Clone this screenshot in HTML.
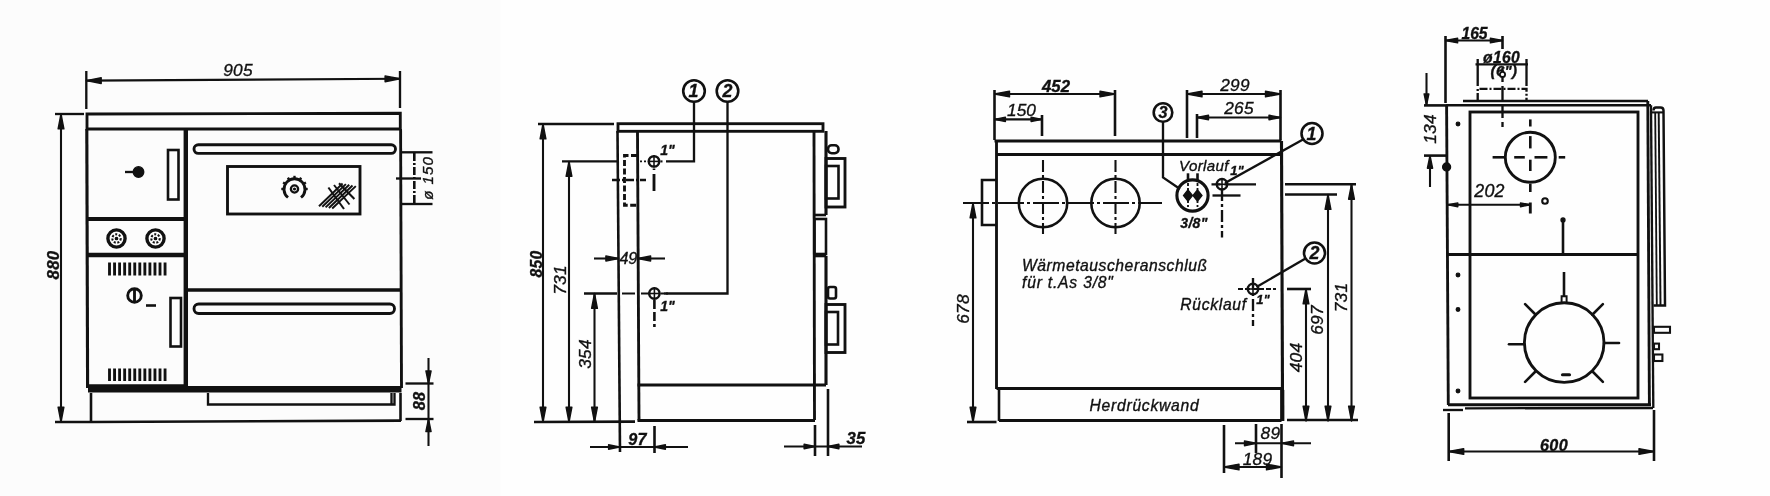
<!DOCTYPE html>
<html><head><meta charset="utf-8"><title>Herd Maßzeichnung</title>
<style>
html,body{margin:0;padding:0;background:#fefefe;}
body{width:1770px;height:496px;overflow:hidden;font-family:"Liberation Sans",sans-serif;}
svg{display:block;opacity:0.999;will-change:transform;}
svg text{font-family:"Liberation Sans",sans-serif;font-style:italic;}
</style></head><body>
<svg width="1770" height="496" viewBox="0 0 1770 496" stroke="#111" fill="none">
<rect x="0" y="0" width="1770" height="496" fill="#fefefe" stroke="none"/>
<rect x="0" y="0" width="500.5" height="496" fill="#fcfcfc" stroke="none"/>
<line x1="86.3" y1="71" x2="86.3" y2="109" stroke-width="2.34" stroke-linecap="butt"/>
<line x1="400" y1="71" x2="400" y2="108" stroke-width="2.34" stroke-linecap="butt"/>
<line x1="86.3" y1="80.6" x2="400" y2="78.8" stroke-width="2.08" stroke-linecap="butt"/>
<polygon points="86.3,80.6 101.2,77.7 101.2,83.5" fill="#111" stroke="#111" stroke-width="1.4" stroke-linejoin="round"/>
<polygon points="400.0,78.8 385.1,75.9 385.1,81.7" fill="#111" stroke="#111" stroke-width="1.4" stroke-linejoin="round"/>
<text x="238" y="76" font-size="17.28" letter-spacing="0.3" text-anchor="middle" stroke="#111" stroke-width="0.35" fill="#111">905</text>
<line x1="55" y1="114" x2="84" y2="114" stroke-width="2.34" stroke-linecap="butt"/>
<line x1="55" y1="422" x2="91" y2="422" stroke-width="2.34" stroke-linecap="butt"/>
<line x1="61" y1="114" x2="61" y2="422" stroke-width="2.08" stroke-linecap="butt"/>
<polygon points="61.0,114.0 58.1,128.9 63.9,128.9" fill="#111" stroke="#111" stroke-width="1.4" stroke-linejoin="round"/>
<polygon points="61.0,422.0 58.1,407.1 63.9,407.1" fill="#111" stroke="#111" stroke-width="1.4" stroke-linejoin="round"/>
<text x="58.5" y="265" font-size="16.74" font-weight="bold" transform="rotate(-90 58.5 265)" letter-spacing="0.3" text-anchor="middle" stroke="#111" stroke-width="0.35" fill="#111">880</text>
<path d="M87,114 L400.3,113.2 V129 H87 Z" stroke-width="2.86" fill="none"/>
<line x1="86.8" y1="129" x2="87.6" y2="388" stroke-width="3.12" stroke-linecap="butt"/>
<line x1="400.6" y1="129" x2="401.5" y2="388" stroke-width="2.86" stroke-linecap="butt"/>
<line x1="185.8" y1="129" x2="185.8" y2="388" stroke-width="4.42" stroke-linecap="butt"/>
<line x1="87" y1="219" x2="185" y2="219" stroke-width="3.9" stroke-linecap="butt"/>
<line x1="87" y1="255" x2="185" y2="255" stroke-width="4.42" stroke-linecap="butt"/>
<line x1="87" y1="385.5" x2="185" y2="385.5" stroke-width="2.6" stroke-linecap="butt"/>
<circle cx="138.5" cy="172" r="5.3" stroke-width="1.3" fill="#111"/>
<line x1="125" y1="172" x2="134" y2="172" stroke-width="2.34" stroke-linecap="butt"/>
<rect x="168" y="150" width="10.5" height="49.5" rx="0" stroke-width="2.6" fill="none"/>
<circle cx="116.5" cy="238.5" r="8.6" stroke-width="3.38" fill="none"/>
<circle cx="116.5" cy="238.5" r="4.2" stroke-width="2.08" fill="none" stroke-dasharray="2 1.6"/>
<circle cx="116.5" cy="238.5" r="1.2" stroke-width="1.3" fill="#111"/>
<circle cx="155.5" cy="238.5" r="8.6" stroke-width="3.38" fill="none"/>
<circle cx="155.5" cy="238.5" r="4.2" stroke-width="2.08" fill="none" stroke-dasharray="2 1.6"/>
<circle cx="155.5" cy="238.5" r="1.2" stroke-width="1.3" fill="#111"/>
<line x1="109.5" y1="262.5" x2="109.5" y2="275.5" stroke-width="2.86" stroke-linecap="butt"/>
<line x1="109.5" y1="368.5" x2="109.5" y2="381" stroke-width="2.86" stroke-linecap="butt"/>
<line x1="114.55" y1="262.5" x2="114.55" y2="275.5" stroke-width="2.86" stroke-linecap="butt"/>
<line x1="114.55" y1="368.5" x2="114.55" y2="381" stroke-width="2.86" stroke-linecap="butt"/>
<line x1="119.6" y1="262.5" x2="119.6" y2="275.5" stroke-width="2.86" stroke-linecap="butt"/>
<line x1="119.6" y1="368.5" x2="119.6" y2="381" stroke-width="2.86" stroke-linecap="butt"/>
<line x1="124.65" y1="262.5" x2="124.65" y2="275.5" stroke-width="2.86" stroke-linecap="butt"/>
<line x1="124.65" y1="368.5" x2="124.65" y2="381" stroke-width="2.86" stroke-linecap="butt"/>
<line x1="129.7" y1="262.5" x2="129.7" y2="275.5" stroke-width="2.86" stroke-linecap="butt"/>
<line x1="129.7" y1="368.5" x2="129.7" y2="381" stroke-width="2.86" stroke-linecap="butt"/>
<line x1="134.75" y1="262.5" x2="134.75" y2="275.5" stroke-width="2.86" stroke-linecap="butt"/>
<line x1="134.75" y1="368.5" x2="134.75" y2="381" stroke-width="2.86" stroke-linecap="butt"/>
<line x1="139.8" y1="262.5" x2="139.8" y2="275.5" stroke-width="2.86" stroke-linecap="butt"/>
<line x1="139.8" y1="368.5" x2="139.8" y2="381" stroke-width="2.86" stroke-linecap="butt"/>
<line x1="144.85" y1="262.5" x2="144.85" y2="275.5" stroke-width="2.86" stroke-linecap="butt"/>
<line x1="144.85" y1="368.5" x2="144.85" y2="381" stroke-width="2.86" stroke-linecap="butt"/>
<line x1="149.9" y1="262.5" x2="149.9" y2="275.5" stroke-width="2.86" stroke-linecap="butt"/>
<line x1="149.9" y1="368.5" x2="149.9" y2="381" stroke-width="2.86" stroke-linecap="butt"/>
<line x1="154.95" y1="262.5" x2="154.95" y2="275.5" stroke-width="2.86" stroke-linecap="butt"/>
<line x1="154.95" y1="368.5" x2="154.95" y2="381" stroke-width="2.86" stroke-linecap="butt"/>
<line x1="160.0" y1="262.5" x2="160.0" y2="275.5" stroke-width="2.86" stroke-linecap="butt"/>
<line x1="160.0" y1="368.5" x2="160.0" y2="381" stroke-width="2.86" stroke-linecap="butt"/>
<line x1="165.05" y1="262.5" x2="165.05" y2="275.5" stroke-width="2.86" stroke-linecap="butt"/>
<line x1="165.05" y1="368.5" x2="165.05" y2="381" stroke-width="2.86" stroke-linecap="butt"/>
<circle cx="134.5" cy="295.5" r="6.8" stroke-width="2.86" fill="none"/>
<line x1="134.5" y1="290" x2="134.5" y2="301" stroke-width="2.86" stroke-linecap="butt"/>
<line x1="146" y1="305.5" x2="156" y2="305.5" stroke-width="2.6" stroke-linecap="butt"/>
<rect x="170.5" y="298" width="10.5" height="48.5" rx="0" stroke-width="2.6" fill="none"/>
<line x1="185" y1="290" x2="401" y2="290" stroke-width="3.38" stroke-linecap="butt"/>
<rect x="194" y="144.8" width="201.5" height="8.599999999999994" rx="4.3" stroke-width="2.86" fill="none"/>
<rect x="194" y="304" width="200.5" height="9.5" rx="4.7" stroke-width="2.86" fill="none"/>
<rect x="227.5" y="166.5" width="132.5" height="47.5" rx="0" stroke-width="2.86" fill="none"/>
<circle cx="294.5" cy="189" r="3.6" stroke-width="2.34" fill="none"/>
<circle cx="294.5" cy="189" r="0.9" stroke-width="1.3" fill="#111"/>
<path d="M288,197.5 A10.5,10.5 0 1 1 301,197.5" stroke-width="2.86" fill="none"/>
<line x1="285.83974596215563" y1="184.0" x2="283.0684646700454" y2="182.4" stroke-width="2.34" stroke-linecap="butt"/>
<line x1="289.5" y1="180.3397459621556" x2="287.9" y2="177.56846467004542" stroke-width="2.34" stroke-linecap="butt"/>
<line x1="294.5" y1="179.0" x2="294.5" y2="175.8" stroke-width="2.34" stroke-linecap="butt"/>
<line x1="299.5" y1="180.3397459621556" x2="301.1" y2="177.56846467004542" stroke-width="2.34" stroke-linecap="butt"/>
<line x1="303.16025403784437" y1="184.0" x2="305.9315353299546" y2="182.4" stroke-width="2.34" stroke-linecap="butt"/>
<line x1="304.5" y1="189.0" x2="307.7" y2="189.0" stroke-width="2.34" stroke-linecap="butt"/>
<line x1="284.5" y1="189.0" x2="281.3" y2="189.0" stroke-width="2.34" stroke-linecap="butt"/>
<line x1="319.0" y1="206.2" x2="342.6" y2="183.5" stroke-width="1.95" stroke-linecap="butt"/>
<line x1="322.3" y1="206.79399999999998" x2="345.90000000000003" y2="184.16" stroke-width="1.95" stroke-linecap="butt"/>
<line x1="325.6" y1="207.38799999999998" x2="349.20000000000005" y2="184.82" stroke-width="1.95" stroke-linecap="butt"/>
<line x1="328.9" y1="207.982" x2="352.5" y2="185.48" stroke-width="1.95" stroke-linecap="butt"/>
<line x1="332.2" y1="208.576" x2="355.8" y2="186.14" stroke-width="1.95" stroke-linecap="butt"/>
<line x1="328.4" y1="187.5" x2="344" y2="209" stroke-width="2.08" stroke-linecap="butt"/>
<line x1="334" y1="185" x2="349.5" y2="204.5" stroke-width="1.95" stroke-linecap="butt"/>
<line x1="339" y1="183.2" x2="354.4" y2="199" stroke-width="2.08" stroke-linecap="butt"/>
<rect x="88" y="386" width="313.5" height="6.5" fill="#111" stroke="none"/>
<line x1="91" y1="393" x2="91" y2="422" stroke-width="2.6" stroke-linecap="butt"/>
<line x1="400.5" y1="393" x2="400.5" y2="421" stroke-width="2.6" stroke-linecap="butt"/>
<line x1="91" y1="422" x2="401" y2="420.6" stroke-width="2.6" stroke-linecap="butt"/>
<path d="M208,393 V404.5 H394.5 V393 M391.5,393 V404.5" stroke-width="2.34" fill="none"/>
<line x1="401" y1="152.3" x2="432.5" y2="152.3" stroke-width="2.34" stroke-linecap="butt"/>
<line x1="401" y1="204" x2="432.5" y2="204" stroke-width="2.34" stroke-linecap="butt"/>
<line x1="414.3" y1="153" x2="414.3" y2="204" stroke-width="2.6" stroke-dasharray="8 2 2 2" stroke-linecap="butt"/>
<line x1="396" y1="178.5" x2="421" y2="178.5" stroke-width="2.34" stroke-linecap="butt"/>
<text x="432.5" y="178" font-size="15.12" transform="rotate(-90 432.5 178)" letter-spacing="1.0" text-anchor="middle" stroke="#111" stroke-width="0.35" fill="#111">ø 150</text>
<line x1="405.5" y1="383.5" x2="433.5" y2="383.5" stroke-width="2.34" stroke-linecap="butt"/>
<line x1="405.5" y1="419" x2="433.5" y2="419" stroke-width="2.34" stroke-linecap="butt"/>
<line x1="428.5" y1="358" x2="428.5" y2="446" stroke-width="2.08" stroke-linecap="butt"/>
<polygon points="428.5,383.5 425.9,370.9 431.1,370.9" fill="#111" stroke="#111" stroke-width="1.4" stroke-linejoin="round"/>
<polygon points="428.5,419.0 425.9,431.6 431.1,431.6" fill="#111" stroke="#111" stroke-width="1.4" stroke-linejoin="round"/>
<text x="424.5" y="401" font-size="16.2" font-weight="bold" transform="rotate(-90 424.5 401)" letter-spacing="0.3" text-anchor="middle" stroke="#111" stroke-width="0.35" fill="#111">88</text>
<rect x="618" y="123.7" width="205" height="7.6000000000000085" rx="0" stroke-width="2.86" fill="none"/>
<line x1="617.5" y1="131" x2="620" y2="452" stroke-width="2.6" stroke-linecap="butt"/>
<line x1="637.5" y1="131" x2="639" y2="420.5" stroke-width="2.86" stroke-linecap="butt"/>
<line x1="814" y1="131" x2="814.5" y2="420" stroke-width="2.86" stroke-linecap="butt"/>
<line x1="637.5" y1="385" x2="826" y2="385" stroke-width="2.86" stroke-linecap="butt"/>
<line x1="637.5" y1="420.5" x2="815" y2="420.5" stroke-width="3.12" stroke-linecap="butt"/>
<line x1="826" y1="131" x2="826" y2="215" stroke-width="3.12" stroke-linecap="butt"/>
<line x1="814.5" y1="215" x2="826" y2="215" stroke-width="2.6" stroke-linecap="butt"/>
<rect x="814.5" y="219" width="11.5" height="35" rx="0" stroke-width="2.6" fill="none"/>
<line x1="826" y1="256" x2="826" y2="385" stroke-width="3.12" stroke-linecap="butt"/>
<line x1="814.5" y1="256" x2="826" y2="256" stroke-width="2.6" stroke-linecap="butt"/>
<rect x="828" y="145.3" width="10.5" height="7.899999999999977" rx="3.7" stroke-width="2.6" fill="none"/>
<rect x="826" y="158.5" width="19" height="48.5" rx="0" stroke-width="2.86" fill="none"/>
<rect x="826" y="166" width="12.5" height="32.5" rx="0" stroke-width="2.6" fill="none"/>
<rect x="828" y="287" width="8" height="11.5" rx="2" stroke-width="2.6" fill="none"/>
<rect x="826" y="304.5" width="19" height="48.0" rx="0" stroke-width="2.86" fill="none"/>
<rect x="826" y="312" width="12" height="32.5" rx="0" stroke-width="2.6" fill="none"/>
<circle cx="694" cy="91" r="10.8" stroke-width="2.6" fill="none"/>
<text x="693.5" y="97" font-size="17.82" font-weight="bold" text-anchor="middle" stroke="#111" stroke-width="0.35" fill="#111">1</text>
<circle cx="727.5" cy="91" r="10.8" stroke-width="2.6" fill="none"/>
<text x="727.5" y="97" font-size="17.82" font-weight="bold" text-anchor="middle" stroke="#111" stroke-width="0.35" fill="#111">2</text>
<path d="M694,102 V161.4 H666" stroke-width="2.34" fill="none"/>
<path d="M727.5,102 V293.5 H664" stroke-width="2.34" fill="none"/>
<circle cx="654" cy="161.4" r="5.2" stroke-width="2.47" fill="none"/>
<line x1="647.8" y1="161.4" x2="660.2" y2="161.4" stroke-width="1.56" stroke-linecap="butt"/>
<line x1="654" y1="155.20000000000002" x2="654" y2="167.6" stroke-width="1.56" stroke-linecap="butt"/>
<line x1="654" y1="168.5" x2="654" y2="170" stroke-width="2.6" stroke-linecap="butt"/>
<line x1="654" y1="174" x2="654" y2="191" stroke-width="2.86" stroke-linecap="butt"/>
<circle cx="654.4" cy="293.5" r="5.2" stroke-width="2.47" fill="none"/>
<line x1="648.1999999999999" y1="293.5" x2="660.6" y2="293.5" stroke-width="1.56" stroke-linecap="butt"/>
<line x1="654.4" y1="287.3" x2="654.4" y2="299.7" stroke-width="1.56" stroke-linecap="butt"/>
<line x1="654.4" y1="300" x2="654.4" y2="327" stroke-width="2.6" stroke-dasharray="9 3" stroke-linecap="butt"/>
<line x1="660.5" y1="161.4" x2="664" y2="161.4" stroke-width="2.08" stroke-dasharray="2 1.5" stroke-linecap="butt"/>
<line x1="661" y1="293.5" x2="668" y2="293.5" stroke-width="2.08" stroke-dasharray="3 2" stroke-linecap="butt"/>
<text x="667.5" y="155" font-size="14.04" font-weight="bold" text-anchor="middle" stroke="#111" stroke-width="0.35" fill="#111">1"</text>
<text x="667.5" y="310.5" font-size="14.04" font-weight="bold" text-anchor="middle" stroke="#111" stroke-width="0.35" fill="#111">1"</text>
<path d="M637,155.5 H624.5 V205.3 H637" stroke-width="2.86" fill="none" stroke-dasharray="6 2.5"/>
<line x1="612" y1="180" x2="646" y2="180" stroke-width="2.34" stroke-dasharray="8 2 2 2" stroke-linecap="butt"/>
<line x1="538" y1="124" x2="614" y2="124" stroke-width="2.34" stroke-linecap="butt"/>
<line x1="543" y1="124" x2="543" y2="422" stroke-width="2.08" stroke-linecap="butt"/>
<polygon points="543.0,124.0 540.1,138.9 545.9,138.9" fill="#111" stroke="#111" stroke-width="1.4" stroke-linejoin="round"/>
<polygon points="543.0,422.0 540.1,407.1 545.9,407.1" fill="#111" stroke="#111" stroke-width="1.4" stroke-linejoin="round"/>
<line x1="562" y1="161.4" x2="617.5" y2="161.4" stroke-width="2.34" stroke-linecap="butt"/>
<line x1="640" y1="161.4" x2="648" y2="161.4" stroke-width="1.82" stroke-dasharray="2 2" stroke-linecap="butt"/>
<line x1="569" y1="161.4" x2="569" y2="422" stroke-width="2.08" stroke-linecap="butt"/>
<polygon points="569.0,161.4 566.1,176.3 571.9,176.3" fill="#111" stroke="#111" stroke-width="1.4" stroke-linejoin="round"/>
<polygon points="569.0,422.0 566.1,407.1 571.9,407.1" fill="#111" stroke="#111" stroke-width="1.4" stroke-linejoin="round"/>
<line x1="584" y1="293.5" x2="617" y2="293.5" stroke-width="2.34" stroke-linecap="butt"/>
<line x1="622" y1="293.5" x2="649" y2="293.5" stroke-width="2.08" stroke-dasharray="13 6" stroke-linecap="butt"/>
<line x1="594.5" y1="293.5" x2="594.5" y2="422" stroke-width="2.08" stroke-linecap="butt"/>
<polygon points="594.5,293.5 591.6,308.4 597.4,308.4" fill="#111" stroke="#111" stroke-width="1.4" stroke-linejoin="round"/>
<polygon points="594.5,422.0 591.6,407.1 597.4,407.1" fill="#111" stroke="#111" stroke-width="1.4" stroke-linejoin="round"/>
<line x1="534" y1="422" x2="635" y2="421.6" stroke-width="2.6" stroke-linecap="butt"/>
<text x="542" y="264" font-size="15.66" font-weight="bold" transform="rotate(-90 542 264)" letter-spacing="0.3" text-anchor="middle" stroke="#111" stroke-width="0.35" fill="#111">850</text>
<text x="565.5" y="280" font-size="17.28" transform="rotate(-90 565.5 280)" letter-spacing="0.3" text-anchor="middle" stroke="#111" stroke-width="0.35" fill="#111">731</text>
<text x="590.5" y="354" font-size="17.28" transform="rotate(-90 590.5 354)" letter-spacing="0.3" text-anchor="middle" stroke="#111" stroke-width="0.35" fill="#111">354</text>
<line x1="594" y1="258.5" x2="618.5" y2="258.5" stroke-width="2.08" stroke-linecap="butt"/>
<line x1="638" y1="258.5" x2="665" y2="258.5" stroke-width="2.08" stroke-linecap="butt"/>
<polygon points="618.5,258.5 605.9,255.9 605.9,261.1" fill="#111" stroke="#111" stroke-width="1.4" stroke-linejoin="round"/>
<polygon points="638.0,258.5 650.6,255.9 650.6,261.1" fill="#111" stroke="#111" stroke-width="1.4" stroke-linejoin="round"/>
<text x="628.3" y="264" font-size="16.2" letter-spacing="-0.3" text-anchor="middle" stroke="#111" stroke-width="0.35" fill="#111">49</text>
<line x1="654.5" y1="426" x2="654.5" y2="453" stroke-width="2.6" stroke-linecap="butt"/>
<line x1="590" y1="447" x2="688" y2="447" stroke-width="2.08" stroke-linecap="butt"/>
<polygon points="619.5,447.0 608.6,444.8 608.6,449.2" fill="#111" stroke="#111" stroke-width="1.4" stroke-linejoin="round"/>
<polygon points="654.5,447.0 665.4,444.8 665.4,449.2" fill="#111" stroke="#111" stroke-width="1.4" stroke-linejoin="round"/>
<text x="637.6" y="445" font-size="16.2" font-weight="bold" letter-spacing="0.3" text-anchor="middle" stroke="#111" stroke-width="0.35" fill="#111">97</text>
<line x1="815" y1="425" x2="815" y2="456" stroke-width="2.6" stroke-linecap="butt"/>
<line x1="828" y1="389" x2="828" y2="456" stroke-width="2.6" stroke-linecap="butt"/>
<line x1="784" y1="446.5" x2="862" y2="446.5" stroke-width="2.08" stroke-linecap="butt"/>
<polygon points="815.0,446.5 804.1,444.3 804.1,448.7" fill="#111" stroke="#111" stroke-width="1.4" stroke-linejoin="round"/>
<polygon points="828.0,446.5 838.9,444.3 838.9,448.7" fill="#111" stroke="#111" stroke-width="1.4" stroke-linejoin="round"/>
<text x="856" y="443.5" font-size="16.74" font-weight="bold" letter-spacing="0.3" text-anchor="middle" stroke="#111" stroke-width="0.35" fill="#111">35</text>
<line x1="994.5" y1="90" x2="994.5" y2="140" stroke-width="2.6" stroke-linecap="butt"/>
<line x1="1115" y1="90" x2="1115" y2="136" stroke-width="2.6" stroke-linecap="butt"/>
<line x1="1042" y1="115" x2="1042" y2="136" stroke-width="2.6" stroke-linecap="butt"/>
<line x1="994.5" y1="94" x2="1115" y2="94" stroke-width="2.08" stroke-linecap="butt"/>
<polygon points="994.5,94.0 1009.5,91.1 1009.5,96.9" fill="#111" stroke="#111" stroke-width="1.4" stroke-linejoin="round"/>
<polygon points="1115.0,94.0 1100.0,91.1 1100.0,96.9" fill="#111" stroke="#111" stroke-width="1.4" stroke-linejoin="round"/>
<text x="1056" y="92" font-size="16.74" font-weight="bold" text-anchor="middle" stroke="#111" stroke-width="0.35" fill="#111">452</text>
<line x1="994.5" y1="119.4" x2="1042" y2="119.4" stroke-width="2.08" stroke-linecap="butt"/>
<polygon points="994.5,119.4 1005.4,117.2 1005.4,121.6" fill="#111" stroke="#111" stroke-width="1.4" stroke-linejoin="round"/>
<polygon points="1042.0,119.4 1031.1,117.2 1031.1,121.6" fill="#111" stroke="#111" stroke-width="1.4" stroke-linejoin="round"/>
<text x="1021.5" y="115.5" font-size="17.28" letter-spacing="0.1" text-anchor="middle" stroke="#111" stroke-width="0.35" fill="#111">150</text>
<line x1="1187" y1="90" x2="1187" y2="138" stroke-width="2.6" stroke-linecap="butt"/>
<line x1="1280.5" y1="90" x2="1280.5" y2="140" stroke-width="2.6" stroke-linecap="butt"/>
<line x1="1197" y1="114" x2="1197" y2="138" stroke-width="2.6" stroke-linecap="butt"/>
<line x1="1187" y1="94" x2="1280.5" y2="94" stroke-width="2.08" stroke-linecap="butt"/>
<polygon points="1187.0,94.0 1202.0,91.1 1202.0,96.9" fill="#111" stroke="#111" stroke-width="1.4" stroke-linejoin="round"/>
<polygon points="1280.5,94.0 1265.5,91.1 1265.5,96.9" fill="#111" stroke="#111" stroke-width="1.4" stroke-linejoin="round"/>
<text x="1235" y="91" font-size="17.28" letter-spacing="0.3" text-anchor="middle" stroke="#111" stroke-width="0.35" fill="#111">299</text>
<line x1="1197" y1="117.5" x2="1280.5" y2="117.5" stroke-width="2.08" stroke-linecap="butt"/>
<polygon points="1197.0,117.5 1208.5,115.2 1208.5,119.8" fill="#111" stroke="#111" stroke-width="1.4" stroke-linejoin="round"/>
<polygon points="1280.5,117.5 1269.0,115.2 1269.0,119.8" fill="#111" stroke="#111" stroke-width="1.4" stroke-linejoin="round"/>
<text x="1239" y="114" font-size="17.28" letter-spacing="0.3" text-anchor="middle" stroke="#111" stroke-width="0.35" fill="#111">265</text>
<line x1="994.5" y1="141" x2="1281.5" y2="141" stroke-width="2.86" stroke-linecap="butt"/>
<line x1="996.5" y1="154.5" x2="1281.5" y2="154.5" stroke-width="2.86" stroke-linecap="butt"/>
<line x1="996.5" y1="141" x2="996.5" y2="389" stroke-width="2.86" stroke-linecap="butt"/>
<line x1="1281.5" y1="141" x2="1282.6" y2="421" stroke-width="3.12" stroke-linecap="butt"/>
<line x1="996.5" y1="388.5" x2="1281.5" y2="388.5" stroke-width="3.12" stroke-linecap="butt"/>
<line x1="999" y1="389" x2="999" y2="421" stroke-width="2.6" stroke-linecap="butt"/>
<line x1="999" y1="420.5" x2="1281.5" y2="420.5" stroke-width="3.12" stroke-linecap="butt"/>
<line x1="1282.2" y1="390" x2="1282.2" y2="421" stroke-width="4.16" stroke-linecap="butt"/>
<text x="1144.5" y="410.7" font-size="15.66" letter-spacing="0.75" text-anchor="middle" stroke="#111" stroke-width="0.35" fill="#111">Herdrückwand</text>
<path d="M996.5,180 H982 V225 H996.5" stroke-width="2.6" fill="none"/>
<line x1="963" y1="203" x2="1162" y2="203" stroke-width="2.08" stroke-dasharray="26 3 3 3" stroke-linecap="butt"/>
<circle cx="1043" cy="203" r="24.2" stroke-width="2.6" fill="none"/>
<line x1="1043" y1="160" x2="1043" y2="234" stroke-width="2.08" stroke-dasharray="12 3 3 3" stroke-linecap="butt"/>
<circle cx="1115.5" cy="203" r="24.2" stroke-width="2.6" fill="none"/>
<line x1="1115.5" y1="160" x2="1115.5" y2="234" stroke-width="2.08" stroke-dasharray="12 3 3 3" stroke-linecap="butt"/>
<circle cx="1163" cy="112.5" r="9.3" stroke-width="2.6" fill="none"/>
<text x="1163" y="118" font-size="16.2" font-weight="bold" text-anchor="middle" stroke="#111" stroke-width="0.35" fill="#111">3</text>
<path d="M1163,122 V177.5 L1180,189" stroke-width="2.34" fill="none"/>
<circle cx="1192.5" cy="195.5" r="15.6" stroke-width="3.12" fill="none"/>
<path d="M1188,189.8 l4.5,5.7 l-4.5,5.7 l-4.5,-5.7 z" stroke-width="1.3" fill="#111"/>
<line x1="1188" y1="173.3" x2="1188" y2="181" stroke-width="2.6" stroke-linecap="butt"/>
<line x1="1188" y1="183" x2="1188" y2="190" stroke-width="1.82" stroke-dasharray="3 2" stroke-linecap="butt"/>
<line x1="1188" y1="201" x2="1188" y2="208" stroke-width="1.82" stroke-dasharray="2 2" stroke-linecap="butt"/>
<path d="M1197.5,189.8 l4.5,5.7 l-4.5,5.7 l-4.5,-5.7 z" stroke-width="1.3" fill="#111"/>
<line x1="1197.5" y1="173.3" x2="1197.5" y2="181" stroke-width="2.6" stroke-linecap="butt"/>
<line x1="1197.5" y1="183" x2="1197.5" y2="190" stroke-width="1.82" stroke-dasharray="3 2" stroke-linecap="butt"/>
<line x1="1197.5" y1="201" x2="1197.5" y2="208" stroke-width="1.82" stroke-dasharray="2 2" stroke-linecap="butt"/>
<text x="1194" y="228" font-size="14.04" font-weight="bold" letter-spacing="0.3" text-anchor="middle" stroke="#111" stroke-width="0.35" fill="#111">3/8"</text>
<text x="1204" y="171" font-size="15.12" letter-spacing="0.35" text-anchor="middle" stroke="#111" stroke-width="0.35" fill="#111">Vorlauf</text>
<text x="1237" y="175" font-size="12.96" font-weight="bold" text-anchor="middle" stroke="#111" stroke-width="0.35" fill="#111">1"</text>
<circle cx="1222" cy="184.3" r="5.2" stroke-width="2.47" fill="none"/>
<line x1="1215.8" y1="184.3" x2="1228.2" y2="184.3" stroke-width="1.56" stroke-linecap="butt"/>
<line x1="1222" y1="178.10000000000002" x2="1222" y2="190.5" stroke-width="1.56" stroke-linecap="butt"/>
<line x1="1211.5" y1="184.3" x2="1256" y2="184.3" stroke-width="2.34" stroke-dasharray="9 4 30 0" stroke-linecap="butt"/>
<line x1="1212.5" y1="195.5" x2="1240.5" y2="195.5" stroke-width="2.34" stroke-linecap="butt"/>
<line x1="1222" y1="189" x2="1222" y2="237.5" stroke-width="2.34" stroke-dasharray="12 3 3 3" stroke-linecap="butt"/>
<circle cx="1312" cy="133.5" r="10.5" stroke-width="2.6" fill="none"/>
<text x="1311.5" y="139.5" font-size="17.82" font-weight="bold" text-anchor="middle" stroke="#111" stroke-width="0.35" fill="#111">1</text>
<line x1="1303" y1="139.5" x2="1225" y2="183" stroke-width="2.34" stroke-linecap="butt"/>
<circle cx="1314.5" cy="253" r="10.5" stroke-width="2.6" fill="none"/>
<text x="1314.5" y="259" font-size="17.82" font-weight="bold" text-anchor="middle" stroke="#111" stroke-width="0.35" fill="#111">2</text>
<line x1="1305.5" y1="258.5" x2="1256.5" y2="287" stroke-width="2.34" stroke-linecap="butt"/>
<circle cx="1253" cy="289" r="5.2" stroke-width="2.47" fill="none"/>
<line x1="1246.8" y1="289" x2="1259.2" y2="289" stroke-width="1.56" stroke-linecap="butt"/>
<line x1="1253" y1="282.8" x2="1253" y2="295.2" stroke-width="1.56" stroke-linecap="butt"/>
<line x1="1238" y1="289" x2="1276" y2="289" stroke-width="1.82" stroke-dasharray="5 2" stroke-linecap="butt"/>
<line x1="1253" y1="278" x2="1253" y2="326" stroke-width="2.34" stroke-dasharray="12 3 3 3" stroke-linecap="butt"/>
<text x="1263" y="303.5" font-size="12.96" font-weight="bold" text-anchor="middle" stroke="#111" stroke-width="0.35" fill="#111">1"</text>
<text x="1213.5" y="310" font-size="15.66" letter-spacing="0.7" text-anchor="middle" stroke="#111" stroke-width="0.35" fill="#111">Rücklauf</text>
<text x="1022" y="270.5" font-size="15.66" letter-spacing="0.55" text-anchor="start" stroke="#111" stroke-width="0.35" fill="#111">Wärmetauscheranschluß</text>
<text x="1022" y="288.3" font-size="15.66" letter-spacing="0.8" text-anchor="start" stroke="#111" stroke-width="0.35" fill="#111">für t.As 3/8"</text>
<line x1="967" y1="422" x2="996.5" y2="422" stroke-width="2.6" stroke-linecap="butt"/>
<line x1="973" y1="203" x2="973" y2="422" stroke-width="2.08" stroke-linecap="butt"/>
<polygon points="973.0,203.0 970.1,217.9 975.9,217.9" fill="#111" stroke="#111" stroke-width="1.4" stroke-linejoin="round"/>
<polygon points="973.0,422.0 970.1,407.1 975.9,407.1" fill="#111" stroke="#111" stroke-width="1.4" stroke-linejoin="round"/>
<text x="969" y="309" font-size="17.28" transform="rotate(-90 969 309)" letter-spacing="0.3" text-anchor="middle" stroke="#111" stroke-width="0.35" fill="#111">678</text>
<line x1="1285" y1="184.3" x2="1356" y2="184.3" stroke-width="2.6" stroke-linecap="butt"/>
<line x1="1285" y1="194.5" x2="1337" y2="194.5" stroke-width="2.6" stroke-linecap="butt"/>
<line x1="1287" y1="289" x2="1311" y2="289" stroke-width="2.6" stroke-linecap="butt"/>
<line x1="1351.5" y1="184.3" x2="1351.5" y2="421" stroke-width="2.08" stroke-linecap="butt"/>
<polygon points="1351.5,184.3 1348.6,199.2 1354.4,199.2" fill="#111" stroke="#111" stroke-width="1.4" stroke-linejoin="round"/>
<polygon points="1351.5,421.0 1348.6,406.1 1354.4,406.1" fill="#111" stroke="#111" stroke-width="1.4" stroke-linejoin="round"/>
<line x1="1328" y1="194.5" x2="1328" y2="421" stroke-width="2.08" stroke-linecap="butt"/>
<polygon points="1328.0,194.5 1325.1,209.4 1330.9,209.4" fill="#111" stroke="#111" stroke-width="1.4" stroke-linejoin="round"/>
<polygon points="1328.0,421.0 1325.1,406.1 1330.9,406.1" fill="#111" stroke="#111" stroke-width="1.4" stroke-linejoin="round"/>
<line x1="1306" y1="289" x2="1306" y2="421" stroke-width="2.08" stroke-linecap="butt"/>
<polygon points="1306.0,289.0 1303.1,303.9 1308.9,303.9" fill="#111" stroke="#111" stroke-width="1.4" stroke-linejoin="round"/>
<polygon points="1306.0,421.0 1303.1,406.1 1308.9,406.1" fill="#111" stroke="#111" stroke-width="1.4" stroke-linejoin="round"/>
<line x1="1287" y1="420" x2="1358" y2="420" stroke-width="2.6" stroke-linecap="butt"/>
<text x="1302" y="357.5" font-size="17.28" transform="rotate(-90 1302 357.5)" letter-spacing="0.3" text-anchor="middle" stroke="#111" stroke-width="0.35" fill="#111">404</text>
<text x="1322.5" y="320" font-size="17.28" transform="rotate(-90 1322.5 320)" letter-spacing="0.3" text-anchor="middle" stroke="#111" stroke-width="0.35" fill="#111">697</text>
<text x="1347" y="297.5" font-size="17.28" transform="rotate(-90 1347 297.5)" letter-spacing="0.3" text-anchor="middle" stroke="#111" stroke-width="0.35" fill="#111">731</text>
<line x1="1256" y1="424" x2="1256" y2="453" stroke-width="2.6" stroke-linecap="butt"/>
<line x1="1281.5" y1="424" x2="1281.5" y2="478" stroke-width="2.6" stroke-linecap="butt"/>
<line x1="1224" y1="425" x2="1224" y2="473" stroke-width="2.6" stroke-linecap="butt"/>
<line x1="1235" y1="443.3" x2="1311" y2="443.3" stroke-width="2.08" stroke-linecap="butt"/>
<polygon points="1256.0,443.3 1244.5,440.9 1244.5,445.7" fill="#111" stroke="#111" stroke-width="1.4" stroke-linejoin="round"/>
<polygon points="1282.0,443.3 1293.5,440.9 1293.5,445.7" fill="#111" stroke="#111" stroke-width="1.4" stroke-linejoin="round"/>
<text x="1270.5" y="439" font-size="17.28" letter-spacing="0.3" text-anchor="middle" stroke="#111" stroke-width="0.35" fill="#111">89</text>
<line x1="1224" y1="467" x2="1281.5" y2="467" stroke-width="2.08" stroke-linecap="butt"/>
<polygon points="1224.0,467.0 1239.0,464.1 1239.0,469.9" fill="#111" stroke="#111" stroke-width="1.4" stroke-linejoin="round"/>
<polygon points="1281.5,467.0 1266.5,464.1 1266.5,469.9" fill="#111" stroke="#111" stroke-width="1.4" stroke-linejoin="round"/>
<text x="1257.5" y="465" font-size="17.28" letter-spacing="0.3" text-anchor="middle" stroke="#111" stroke-width="0.35" fill="#111">189</text>
<line x1="1445.5" y1="36" x2="1445.5" y2="103" stroke-width="2.6" stroke-linecap="butt"/>
<line x1="1502.5" y1="36" x2="1502.5" y2="49" stroke-width="2.6" stroke-linecap="butt"/>
<line x1="1445.5" y1="40.5" x2="1502.5" y2="40.5" stroke-width="2.08" stroke-linecap="butt"/>
<polygon points="1445.5,40.5 1457.6,38.1 1457.6,42.9" fill="#111" stroke="#111" stroke-width="1.4" stroke-linejoin="round"/>
<polygon points="1502.5,40.5 1490.4,38.1 1490.4,42.9" fill="#111" stroke="#111" stroke-width="1.4" stroke-linejoin="round"/>
<text x="1474.5" y="38.8" font-size="15.66" font-weight="bold" text-anchor="middle" stroke="#111" stroke-width="0.35" fill="#111">165</text>
<text x="1501.5" y="63" font-size="15.66" font-weight="bold" letter-spacing="0.3" text-anchor="middle" stroke="#111" stroke-width="0.35" fill="#111">ø160</text>
<text x="1504" y="76" font-size="15.12" font-weight="bold" letter-spacing="0.3" text-anchor="middle" stroke="#111" stroke-width="0.35" fill="#111">(6")</text>
<line x1="1477.7" y1="59" x2="1477.7" y2="86" stroke-width="2.34" stroke-linecap="butt"/>
<line x1="1526.5" y1="59" x2="1526.5" y2="86" stroke-width="2.34" stroke-linecap="butt"/>
<line x1="1475.5" y1="64.4" x2="1528" y2="64.4" stroke-width="2.34" stroke-linecap="butt"/>
<path d="M1477.7,101 V88.8 H1526.5 V101" stroke-width="2.34" fill="none" stroke-dasharray="8 2 2 2"/>
<line x1="1502.5" y1="68" x2="1502.5" y2="127" stroke-width="2.34" stroke-dasharray="14 4" stroke-linecap="butt"/>
<circle cx="1502.5" cy="74.4" r="2.6" stroke-width="1.82" fill="#fff"/>
<line x1="1463" y1="101" x2="1648" y2="101" stroke-width="2.6" stroke-linecap="butt"/>
<line x1="1446" y1="105.2" x2="1651" y2="105.2" stroke-width="2.6" stroke-linecap="butt"/>
<line x1="1446.6" y1="105" x2="1448.3" y2="405" stroke-width="2.86" stroke-linecap="butt"/>
<line x1="1647.8" y1="101" x2="1649.4" y2="404.5" stroke-width="2.86" stroke-linecap="butt"/>
<line x1="1651" y1="105.2" x2="1653.3" y2="408" stroke-width="2.34" stroke-linecap="butt"/>
<rect x="1470" y="112" width="168" height="286" rx="0" stroke-width="2.86" fill="none"/>
<line x1="1447.5" y1="254.5" x2="1638" y2="254.5" stroke-width="2.86" stroke-linecap="butt"/>
<line x1="1448" y1="404.8" x2="1651" y2="404.8" stroke-width="3.12" stroke-linecap="butt"/>
<line x1="1465" y1="408.3" x2="1653" y2="408" stroke-width="2.34" stroke-linecap="butt"/>
<line x1="1443" y1="410" x2="1463" y2="410" stroke-width="2.34" stroke-linecap="butt"/>
<path d="M1653.5,110.5 Q1653.5,107.5 1656,107.5 H1660.5 Q1663.5,107.5 1663.5,110.5 L1665,305.4 H1653.5" stroke-width="2.47" fill="none"/>
<line x1="1652" y1="112.4" x2="1663.5" y2="112.4" stroke-width="2.08" stroke-linecap="butt"/>
<line x1="1655.2" y1="112.4" x2="1656.8" y2="305" stroke-width="1.82" stroke-linecap="butt"/>
<line x1="1658.7" y1="112.4" x2="1660.5" y2="305" stroke-width="1.95" stroke-linecap="butt"/>
<rect x="1654" y="326.8" width="16" height="6.0" rx="0" stroke-width="2.08" fill="none"/>
<rect x="1654" y="343.6" width="5" height="5.599999999999966" rx="0" stroke-width="2.08" fill="none"/>
<rect x="1654" y="354.5" width="8.400000000000091" height="6.5" rx="0" stroke-width="2.08" fill="none"/>
<line x1="1424" y1="105.4" x2="1446" y2="105.4" stroke-width="2.6" stroke-linecap="butt"/>
<line x1="1424" y1="155.6" x2="1446" y2="155.6" stroke-width="2.6" stroke-linecap="butt"/>
<line x1="1426.5" y1="73" x2="1426.5" y2="105.4" stroke-width="2.08" stroke-linecap="butt"/>
<polygon points="1426.5,105.4 1424.1,93.9 1428.9,93.9" fill="#111" stroke="#111" stroke-width="1.4" stroke-linejoin="round"/>
<line x1="1430" y1="155.6" x2="1430" y2="187" stroke-width="2.08" stroke-linecap="butt"/>
<polygon points="1430.0,155.6 1427.4,168.2 1432.6,168.2" fill="#111" stroke="#111" stroke-width="1.4" stroke-linejoin="round"/>
<text x="1435.8" y="129" font-size="17.28" transform="rotate(-90 1435.8 129)" letter-spacing="0.3" text-anchor="middle" stroke="#111" stroke-width="0.35" fill="#111">134</text>
<circle cx="1446.6" cy="167" r="4" stroke-width="1.3" fill="#111"/>
<circle cx="1458" cy="124" r="1.8" stroke-width="1.3" fill="#111"/>
<circle cx="1458" cy="275" r="1.8" stroke-width="1.3" fill="#111"/>
<circle cx="1458" cy="309.5" r="1.8" stroke-width="1.3" fill="#111"/>
<circle cx="1458" cy="391" r="1.8" stroke-width="1.3" fill="#111"/>
<circle cx="1530.3" cy="157.3" r="25" stroke-width="2.86" fill="none"/>
<line x1="1492.6" y1="157.3" x2="1504.5" y2="157.3" stroke-width="2.6" stroke-linecap="butt"/>
<line x1="1514.2" y1="157.3" x2="1524.8" y2="157.3" stroke-width="2.6" stroke-linecap="butt"/>
<line x1="1534.5" y1="157.3" x2="1547.4" y2="157.3" stroke-width="2.6" stroke-linecap="butt"/>
<line x1="1558.7" y1="157.3" x2="1565.2" y2="157.3" stroke-width="2.6" stroke-linecap="butt"/>
<line x1="1530.3" y1="119.4" x2="1530.3" y2="126.5" stroke-width="2.6" stroke-linecap="butt"/>
<line x1="1530.3" y1="136.1" x2="1530.3" y2="148.4" stroke-width="2.6" stroke-linecap="butt"/>
<line x1="1530.3" y1="159.7" x2="1530.3" y2="171" stroke-width="2.6" stroke-linecap="butt"/>
<line x1="1530.3" y1="183.9" x2="1530.3" y2="192" stroke-width="2.6" stroke-linecap="butt"/>
<circle cx="1545" cy="201" r="2.8" stroke-width="2.08" fill="none"/>
<line x1="1448" y1="204.8" x2="1530.3" y2="204.8" stroke-width="2.08" stroke-linecap="butt"/>
<polygon points="1448.0,204.8 1457.8,202.9 1457.8,206.7" fill="#111" stroke="#111" stroke-width="1.4" stroke-linejoin="round"/>
<polygon points="1530.3,204.8 1520.5,202.9 1520.5,206.7" fill="#111" stroke="#111" stroke-width="1.4" stroke-linejoin="round"/>
<line x1="1530.3" y1="202.5" x2="1530.3" y2="213.5" stroke-width="2.86" stroke-linecap="butt"/>
<text x="1489.5" y="197" font-size="17.82" letter-spacing="0.3" text-anchor="middle" stroke="#111" stroke-width="0.35" fill="#111">202</text>
<circle cx="1563" cy="220" r="2" stroke-width="1.3" fill="#111"/>
<line x1="1563" y1="220" x2="1563" y2="254" stroke-width="2.6" stroke-linecap="butt"/>
<circle cx="1564.2" cy="342.6" r="39.8" stroke-width="2.86" fill="none"/>
<line x1="1564" y1="272" x2="1564" y2="296" stroke-width="2.6" stroke-linecap="butt"/>
<path d="M1561.6,304 V296.3 H1566.6 V304" stroke-width="1.95" fill="none"/>
<line x1="1604.0" y1="343.0" x2="1619.0" y2="343.0" stroke-width="2.6" stroke-linecap="round"/>
<line x1="1592.284271247462" y1="314.7157287525381" x2="1602.89087296526" y2="304.1091270347399" stroke-width="2.6" stroke-linecap="round"/>
<line x1="1535.715728752538" y1="314.7157287525381" x2="1525.10912703474" y2="304.1091270347399" stroke-width="2.6" stroke-linecap="round"/>
<line x1="1524.0" y1="344.2" x2="1509.0" y2="344.2" stroke-width="2.6" stroke-linecap="round"/>
<line x1="1535.715728752538" y1="371.2842712474619" x2="1525.10912703474" y2="381.8908729652601" stroke-width="2.6" stroke-linecap="round"/>
<line x1="1592.284271247462" y1="371.2842712474619" x2="1602.89087296526" y2="381.89087296526014" stroke-width="2.6" stroke-linecap="round"/>
<line x1="1562.5" y1="374.8" x2="1569.5" y2="374.8" stroke-width="3.12" stroke-linecap="round"/>
<line x1="1448.7" y1="413" x2="1448.7" y2="461" stroke-width="2.6" stroke-linecap="butt"/>
<line x1="1654" y1="410" x2="1654" y2="461" stroke-width="2.6" stroke-linecap="butt"/>
<line x1="1448.7" y1="451.5" x2="1654" y2="451.5" stroke-width="2.08" stroke-linecap="butt"/>
<polygon points="1448.7,451.5 1463.7,448.6 1463.7,454.4" fill="#111" stroke="#111" stroke-width="1.4" stroke-linejoin="round"/>
<polygon points="1654.0,451.5 1639.0,448.6 1639.0,454.4" fill="#111" stroke="#111" stroke-width="1.4" stroke-linejoin="round"/>
<text x="1554" y="451" font-size="16.2" font-weight="bold" letter-spacing="0.3" text-anchor="middle" stroke="#111" stroke-width="0.35" fill="#111">600</text>
</svg>
</body></html>
